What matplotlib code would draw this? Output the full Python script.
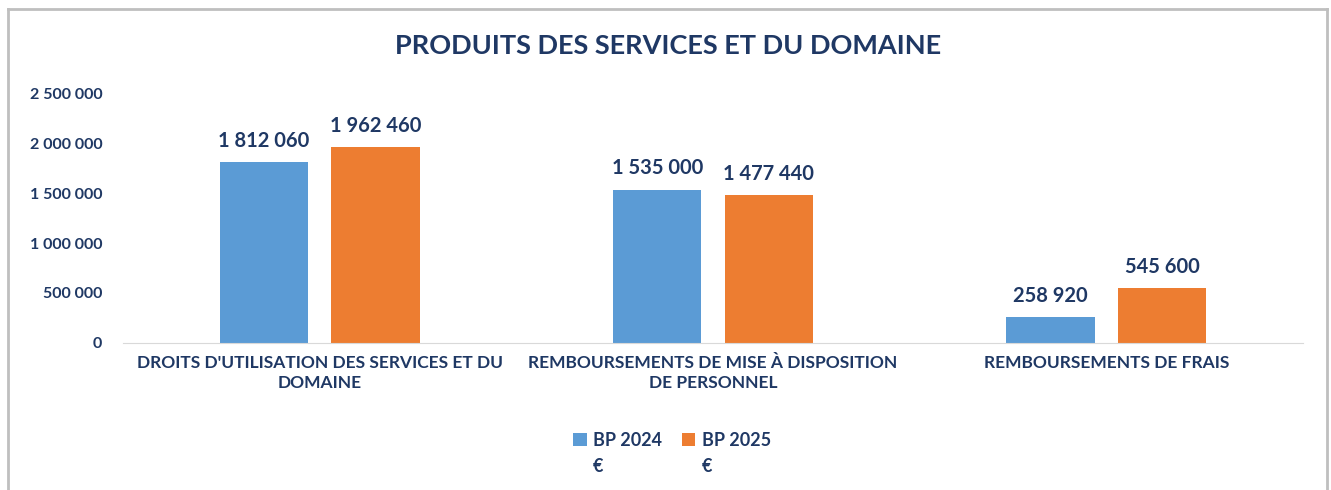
import numpy as np
import matplotlib.pyplot as plt
from matplotlib.lines import Line2D

categories = ["DROITS D'UTILISATION DES SERVICES ET DU\nDOMAINE",
              "REMBOURSEMENTS DE MISE À DISPOSITION\nDE PERSONNEL",
              "REMBOURSEMENTS DE FRAIS"]
bp2024 = [1812060, 1535000, 258920]
bp2025 = [1962460, 1477440, 545600]
series_labels = ["BP 2024", "BP 2025"]
unit = "€"
yticks = [0, 500000, 1000000, 1500000, 2000000, 2500000]

navy = "#1F3864"
blue = "#5B9BD5"
orange = "#ED7D31"

plt.rcParams["font.family"] = ["Lato", "DejaVu Sans"]
plt.rcParams["font.weight"] = "bold"

def fmt(v):
    return f"{v:,}".replace(",", " ")

fig = plt.figure(figsize=(13.31, 4.90), dpi=100)
W, H = 1331, 490
ax = fig.add_axes([123 / W, 1 - 343 / H, (1303 - 123) / W, 250 / H])

x = np.arange(len(categories))
w = 0.224
off = 0.142
b1 = ax.bar(x - off, bp2024, w, color=blue, label=series_labels[0])
b2 = ax.bar(x + off, bp2025, w, color=orange, label=series_labels[1])

for bars, vals in ((b1, bp2024), (b2, bp2025)):
    for r, v in zip(bars, vals):
        ax.annotate(fmt(v), (r.get_x() + r.get_width() / 2, v),
                    xytext=(0, 8), textcoords="offset points",
                    ha="center", va="bottom", fontsize=14.5,
                    color=navy, fontweight="bold")

ax.set_xlim(-0.5, 2.5)
ax.set_ylim(0, 2500000)
ax.set_yticks(yticks)
ax.set_yticklabels([fmt(t) for t in yticks], fontsize=11.5, color=navy, fontweight="bold")
ax.set_xticks(x)
ax.set_xticklabels(categories, fontsize=12.5, color=navy, fontweight="bold", linespacing=1.3)
ax.tick_params(axis="both", length=0)
ax.tick_params(axis="y", pad=15)
ax.tick_params(axis="x", pad=9)
for s in ["top", "right", "left"]:
    ax.spines[s].set_visible(False)
ax.spines["bottom"].set_color("#D9D9D9")

fig.text(668 / W, 1 - 46 / H, "PRODUITS DES SERVICES ET DU DOMAINE",
         ha="center", va="center", fontsize=19.5, color=navy, fontweight="bold")

leg = fig.legend(handles=[b1, b2], loc="center", bbox_to_anchor=(672 / W, 1 - 440 / H),
                 ncol=2, frameon=False, fontsize=13, handlelength=0.75, handleheight=0.75,
                 columnspacing=1.1, handletextpad=0.35)
for t in leg.get_texts():
    t.set_color(navy)
    t.set_fontweight("bold")

# euro unit under each legend entry
fig.canvas.draw()
r = fig.canvas.get_renderer()
for t in leg.get_texts():
    bb = t.get_window_extent(r)
    fig.text(bb.x0 / W, 1 - 466 / H, unit, ha="left", va="center",
             fontsize=13, color=navy, fontweight="bold")

# outer frame
fig.add_artist(Line2D([8 / W, 8 / W], [0, 1 - 9 / H], color="#BFBFBF", lw=2))
fig.add_artist(Line2D([8 / W, 1327 / W], [1 - 9 / H, 1 - 9 / H], color="#BFBFBF", lw=2))
fig.add_artist(Line2D([1327 / W, 1327 / W], [0, 1 - 9 / H], color="#BFBFBF", lw=2))

fig.savefig("out.png", dpi=100)
